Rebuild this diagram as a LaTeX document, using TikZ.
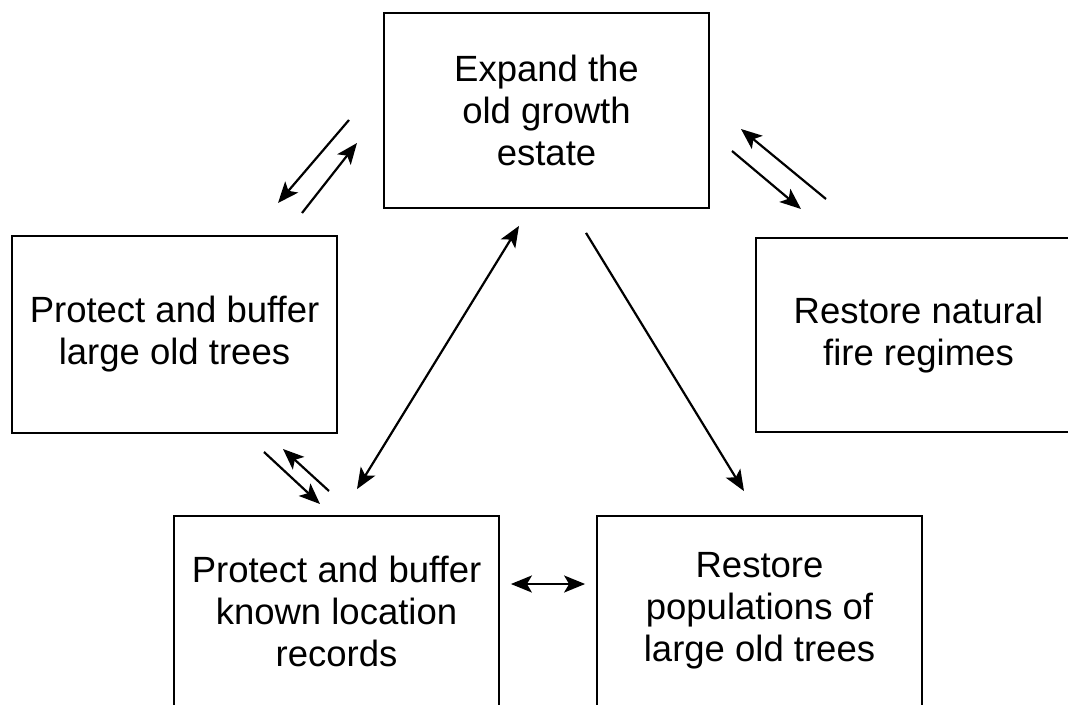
\documentclass[tikz,border=0pt]{standalone}
\usepackage{fontspec}
\setmainfont{Liberation Sans}
\usetikzlibrary{arrows.meta,positioning}

\tikzset{
  goalbox/.style={draw, line width=1.8pt, minimum width=325pt, minimum height=195pt,
    inner sep=0pt, align=center, font=\fontsize{36.5}{42}\selectfont},
  tip/.tip={Stealth[length=21pt,width=17pt,inset=5pt]},
  link/.style={line width=2.2pt, -tip},
  twolink/.style={line width=2.2pt, tip-tip}
}

\begin{document}
\begin{tikzpicture}[x=1pt,y=-1pt]
        \useasboundingbox (0,0) rectangle (1068,704);

        %%% boxes %%%
        \node[goalbox] (expand) at (546.5,110.5) {Expand the\\old growth\\estate};
        \node[goalbox, minimum height=197pt] (bufftrees) at (174.5,334.5) {Protect and buffer\\large old trees};
        \node[goalbox, minimum height=194pt] (fire) at (918.5,335) {Restore natural\\fire regimes};
        \node[goalbox, minimum height=190pt] (records) at (336.5,611) {Protect and buffer\\known location\\records};
        \node[goalbox, minimum height=190pt] (restore) at (759.5,611) {Restore\\populations of\\large old trees};

        %%% paired arrows %%%
        \coordinate (tla) at (349,120); \coordinate (tlb) at (278,203);
        \coordinate (tlc) at (302,213); \coordinate (tld) at (357,143);
        \draw[link] (tla) -- (tlb);
        \draw[link] (tlc) -- (tld);

        \coordinate (tra) at (826,199); \coordinate (trb) at (741,129);
        \coordinate (trc) at (732,151); \coordinate (trd) at (801,209);
        \draw[link] (tra) -- (trb);
        \draw[link] (trc) -- (trd);

        \coordinate (bla) at (264,452); \coordinate (blb) at (320,504);
        \coordinate (blc) at (329,491); \coordinate (bld) at (283,449);
        \draw[link] (bla) -- (blb);
        \draw[link] (blc) -- (bld);

        %%% long arrows %%%
        \draw[twolink] ([shift={(20.5,-26)}]records.north) -- ([shift={(-27.5,17)}]expand.south);
        \draw[link] ([shift={(39.5,24)}]expand.south) -- ([shift={(-15.5,-24)}]restore.north);
        \draw[twolink] ([shift={(11,-27)}]records.east) -- ([shift={(-11,-27)}]restore.west);

\end{tikzpicture}
\end{document}
